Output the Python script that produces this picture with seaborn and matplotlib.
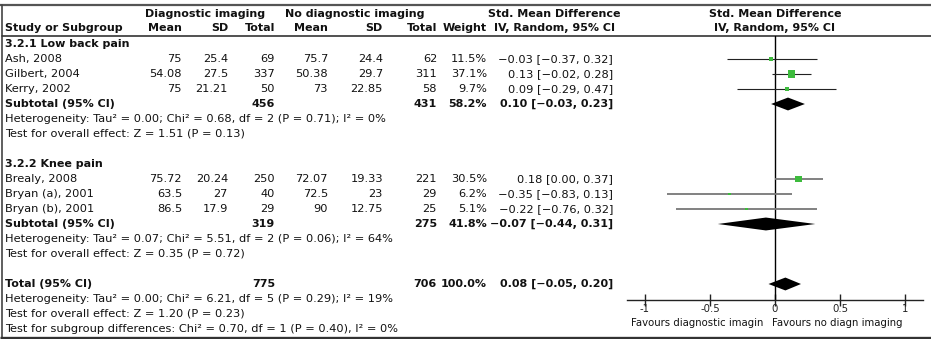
import numpy as np
import pandas as pd
import matplotlib
matplotlib.use("Agg")
import matplotlib.pyplot as plt
import seaborn as sns

# ---- data -------------------------------------------------------------
groups = ["3.2.1 Low back pain", "3.2.2 Knee pain"]
studies = ["Ash, 2008", "Gilbert, 2004", "Kerry, 2002",
           "Brealy, 2008", "Bryan (a), 2001", "Bryan (b), 2001"]
study_group = [0, 0, 0, 1, 1, 1]

exp_mean = [75, 54.08, 75, 75.72, 63.5, 86.5]
exp_sd = [25.4, 27.5, 21.21, 20.24, 27, 17.9]
exp_n = [69, 337, 50, 250, 40, 29]
ctl_mean = [75.7, 50.38, 73, 72.07, 72.5, 90]
ctl_sd = [24.4, 29.7, 22.85, 19.33, 23, 12.75]
ctl_n = [62, 311, 58, 221, 29, 25]
weight = [11.5, 37.1, 9.7, 30.5, 6.2, 5.1]
smd = [-0.03, 0.13, 0.09, 0.18, -0.35, -0.22]
smd_lo = [-0.37, -0.02, -0.29, 0.00, -0.83, -0.76]
smd_hi = [0.32, 0.28, 0.47, 0.37, 0.13, 0.32]

sub_exp_n = [456, 319]
sub_ctl_n = [431, 275]
sub_weight = [58.2, 41.8]
sub_smd = [0.10, -0.07]
sub_lo = [-0.03, -0.44]
sub_hi = [0.23, 0.31]
sub_tau2 = [0.00, 0.07]
sub_chi2 = [0.68, 5.51]
sub_df = [2, 2]
sub_p_het = [0.71, 0.06]
sub_i2 = [0, 64]
sub_z = [1.51, 0.35]
sub_p = [0.13, 0.72]

tot_exp_n = 775
tot_ctl_n = 706
tot_weight = 100.0
tot_smd, tot_lo, tot_hi = 0.08, -0.05, 0.20
tot_tau2, tot_chi2, tot_df, tot_p_het, tot_i2 = 0.00, 6.21, 5, 0.29, 19
tot_z, tot_p = 1.20, 0.23
sg_chi2, sg_df, sg_p, sg_i2 = 0.70, 1, 0.40, 0

x_ticks = [-1, -0.5, 0, 0.5, 1]
x_ticklabels = ["-1", "-0.5", "0", "0.5", "1"]
favours_left = "Favours diagnostic imagin"
favours_right = "Favours no diagn imaging"

# ---- layout -----------------------------------------------------------
W, H = 931, 339
ROW0, STEP = 44, 15          # pixel position of first row and row pitch
FS = 8.2                      # regular table text
FSB = 8.0                     # bold table text
FST = 7.3                     # axis text

def fmt_ci(e, lo, hi):
    return f"{e:.2f} [{lo:.2f}, {hi:.2f}]".replace("-", "\u2212")

def num(v):
    return f"{v:g}"

# row indices built from the group structure
rows_study, rows_sub, rows_grp = [], [], []
r = 0
for g in range(len(groups)):
    rows_grp.append(r)
    r += 1
    for i, sg in enumerate(study_group):
        if sg == g:
            rows_study.append(r)
            r += 1
    rows_sub.append(r)
    r += 4   # subtotal, heterogeneity, overall effect, blank
row_total = r

sns.set_theme(style="white")
plt.rcParams["font.family"] = ["DejaVu Sans"]

fig = plt.figure(figsize=(W / 100, H / 100), dpi=100)
bg = fig.add_axes([0, 0, 1, 1])
bg.set_xlim(0, W)
bg.set_ylim(H, 0)
bg.axis("off")

def ypx(row):
    return ROW0 + STEP * row

def txt(x, row, s, ha="left", bold=False):
    bg.text(x, ypx(row), s, ha=ha, va="center",
            fontsize=FSB if bold else FS,
            fontweight="bold" if bold else "normal", color="#111111")

def head(x, y, s, ha="center"):
    bg.text(x, y, s, ha=ha, va="center", fontsize=FSB, fontweight="bold", color="#111111")

# frame
bg.plot([0, W], [5, 5], color="#555555", lw=1.6, solid_capstyle="butt")
bg.plot([2, 2], [5, 338], color="#444444", lw=1.2)
bg.plot([0, W], [337.5, 337.5], color="#333333", lw=2.4, solid_capstyle="butt")
bg.plot([2, W], [36, 36], color="#333333", lw=1.2)

# column right edges
cx = dict(em=182, esd=228, en=275, cm=328, csd=383, cn=437, w=487, ci=613)

# headers
h1, h2 = 14, 28
head(205, h1, "Diagnostic imaging")
head(355, h1, "No diagnostic imaging")
head(554, h1, "Std. Mean Difference")
head(775, h1, "Std. Mean Difference")
for key, lab in [("em", "Mean"), ("esd", "SD"), ("en", "Total"),
                 ("cm", "Mean"), ("csd", "SD"), ("cn", "Total"), ("w", "Weight")]:
    head(cx[key], h2, lab, ha="right")
head(5, h2, "Study or Subgroup", ha="left")
head(554, h2, "IV, Random, 95% CI")
head(775, h2, "IV, Random, 95% CI")

# study rows
for i, rr in enumerate(rows_study):
    txt(5, rr, studies[i])
    txt(cx["em"], rr, num(exp_mean[i]), "right")
    txt(cx["esd"], rr, num(exp_sd[i]), "right")
    txt(cx["en"], rr, str(exp_n[i]), "right")
    txt(cx["cm"], rr, num(ctl_mean[i]), "right")
    txt(cx["csd"], rr, num(ctl_sd[i]), "right")
    txt(cx["cn"], rr, str(ctl_n[i]), "right")
    txt(cx["w"], rr, f"{weight[i]:.1f}%", "right")
    txt(cx["ci"], rr, fmt_ci(smd[i], smd_lo[i], smd_hi[i]), "right")

# subgroup rows
for g in range(len(groups)):
    txt(5, rows_grp[g], groups[g], bold=True)
    rs = rows_sub[g]
    txt(5, rs, "Subtotal (95% CI)", bold=True)
    txt(cx["en"], rs, str(sub_exp_n[g]), "right", bold=True)
    txt(cx["cn"], rs, str(sub_ctl_n[g]), "right", bold=True)
    txt(cx["w"], rs, f"{sub_weight[g]:.1f}%", "right", bold=True)
    txt(cx["ci"], rs, fmt_ci(sub_smd[g], sub_lo[g], sub_hi[g]), "right", bold=True)
    txt(5, rs + 1, f"Heterogeneity: Tau\u00b2 = {sub_tau2[g]:.2f}; Chi\u00b2 = {sub_chi2[g]:.2f}, "
                   f"df = {sub_df[g]} (P = {sub_p_het[g]:.2f}); I\u00b2 = {sub_i2[g]}%")
    txt(5, rs + 2, f"Test for overall effect: Z = {sub_z[g]:.2f} (P = {sub_p[g]:.2f})")

# total rows
rt = row_total
txt(5, rt, "Total (95% CI)", bold=True)
txt(cx["en"], rt, str(tot_exp_n), "right", bold=True)
txt(cx["cn"], rt, str(tot_ctl_n), "right", bold=True)
txt(cx["w"], rt, f"{tot_weight:.1f}%", "right", bold=True)
txt(cx["ci"], rt, fmt_ci(tot_smd, tot_lo, tot_hi), "right", bold=True)
txt(5, rt + 1, f"Heterogeneity: Tau\u00b2 = {tot_tau2:.2f}; Chi\u00b2 = {tot_chi2:.2f}, "
               f"df = {tot_df} (P = {tot_p_het:.2f}); I\u00b2 = {tot_i2}%")
txt(5, rt + 2, f"Test for overall effect: Z = {tot_z:.2f} (P = {tot_p:.2f})")
txt(5, rt + 3, f"Test for subgroup differences: Chi\u00b2 = {sg_chi2:.2f}, "
               f"df = {sg_df} (P = {sg_p:.2f}), I\u00b2 = {sg_i2}%")

# ---- forest panel -----------------------------------------------------
ax_l, ax_r, ax_top, ax_bot = 627, 923, 36, 300
ax = fig.add_axes([ax_l / W, (H - ax_bot) / H, (ax_r - ax_l) / W, (ax_bot - ax_top) / H])
ax.patch.set_alpha(0)
zero_px = 775
unit_px = 130
ax.set_xlim((ax_l - zero_px) / unit_px, (ax_r - zero_px) / unit_px)
ax.set_ylim((ax_bot - ROW0) / STEP, (ax_top - ROW0) / STEP)

ax.axvline(0, color="black", lw=1.0, zorder=1)

line_colors = ["#222222", "#777777"]
line_widths = [0.8, 1.3]
for i, rr in enumerate(rows_study):
    g = study_group[i]
    ax.hlines(rr, smd_lo[i], smd_hi[i], color=line_colors[g], lw=line_widths[g], zorder=2)

df = pd.DataFrame({"smd": smd, "row": rows_study, "weight": weight})
wmin, wmax = min(weight), max(weight)
k = 0.72
sns.scatterplot(data=df, x="smd", y="row", size="weight",
                sizes=(k * wmin, k * wmax), size_norm=(wmin, wmax),
                marker="s", color="#3dbb3d", linewidth=0, legend=False,
                ax=ax, zorder=3)

half_h = 0.43
def diamond(est, lo, hi, rr):
    ax.fill([lo, est, hi, est], [rr, rr - half_h, rr, rr + half_h],
            color="black", lw=0, zorder=4)

for g in range(len(groups)):
    diamond(sub_smd[g], sub_lo[g], sub_hi[g], rows_sub[g])
diamond(tot_smd, tot_lo, tot_hi, row_total)

for side in ["left", "right", "top"]:
    ax.spines[side].set_visible(False)
ax.spines["bottom"].set_color("#222222")
ax.spines["bottom"].set_linewidth(1.0)
ax.set_xticks(x_ticks)
ax.set_xticklabels(x_ticklabels)
ax.set_yticks([])
ax.tick_params(axis="x", direction="inout", length=8, width=1.0, colors="#222222",
               labelsize=FST, pad=-1, bottom=True)
ax.set_xlabel("")
ax.set_ylabel("")
ax.grid(False)

bg.text(763, 323, favours_left, ha="right", va="center", fontsize=FST, color="#111111")
bg.text(772, 323, favours_right, ha="left", va="center", fontsize=FST, color="#111111")

fig.savefig("out.png", dpi=100, facecolor="white")
